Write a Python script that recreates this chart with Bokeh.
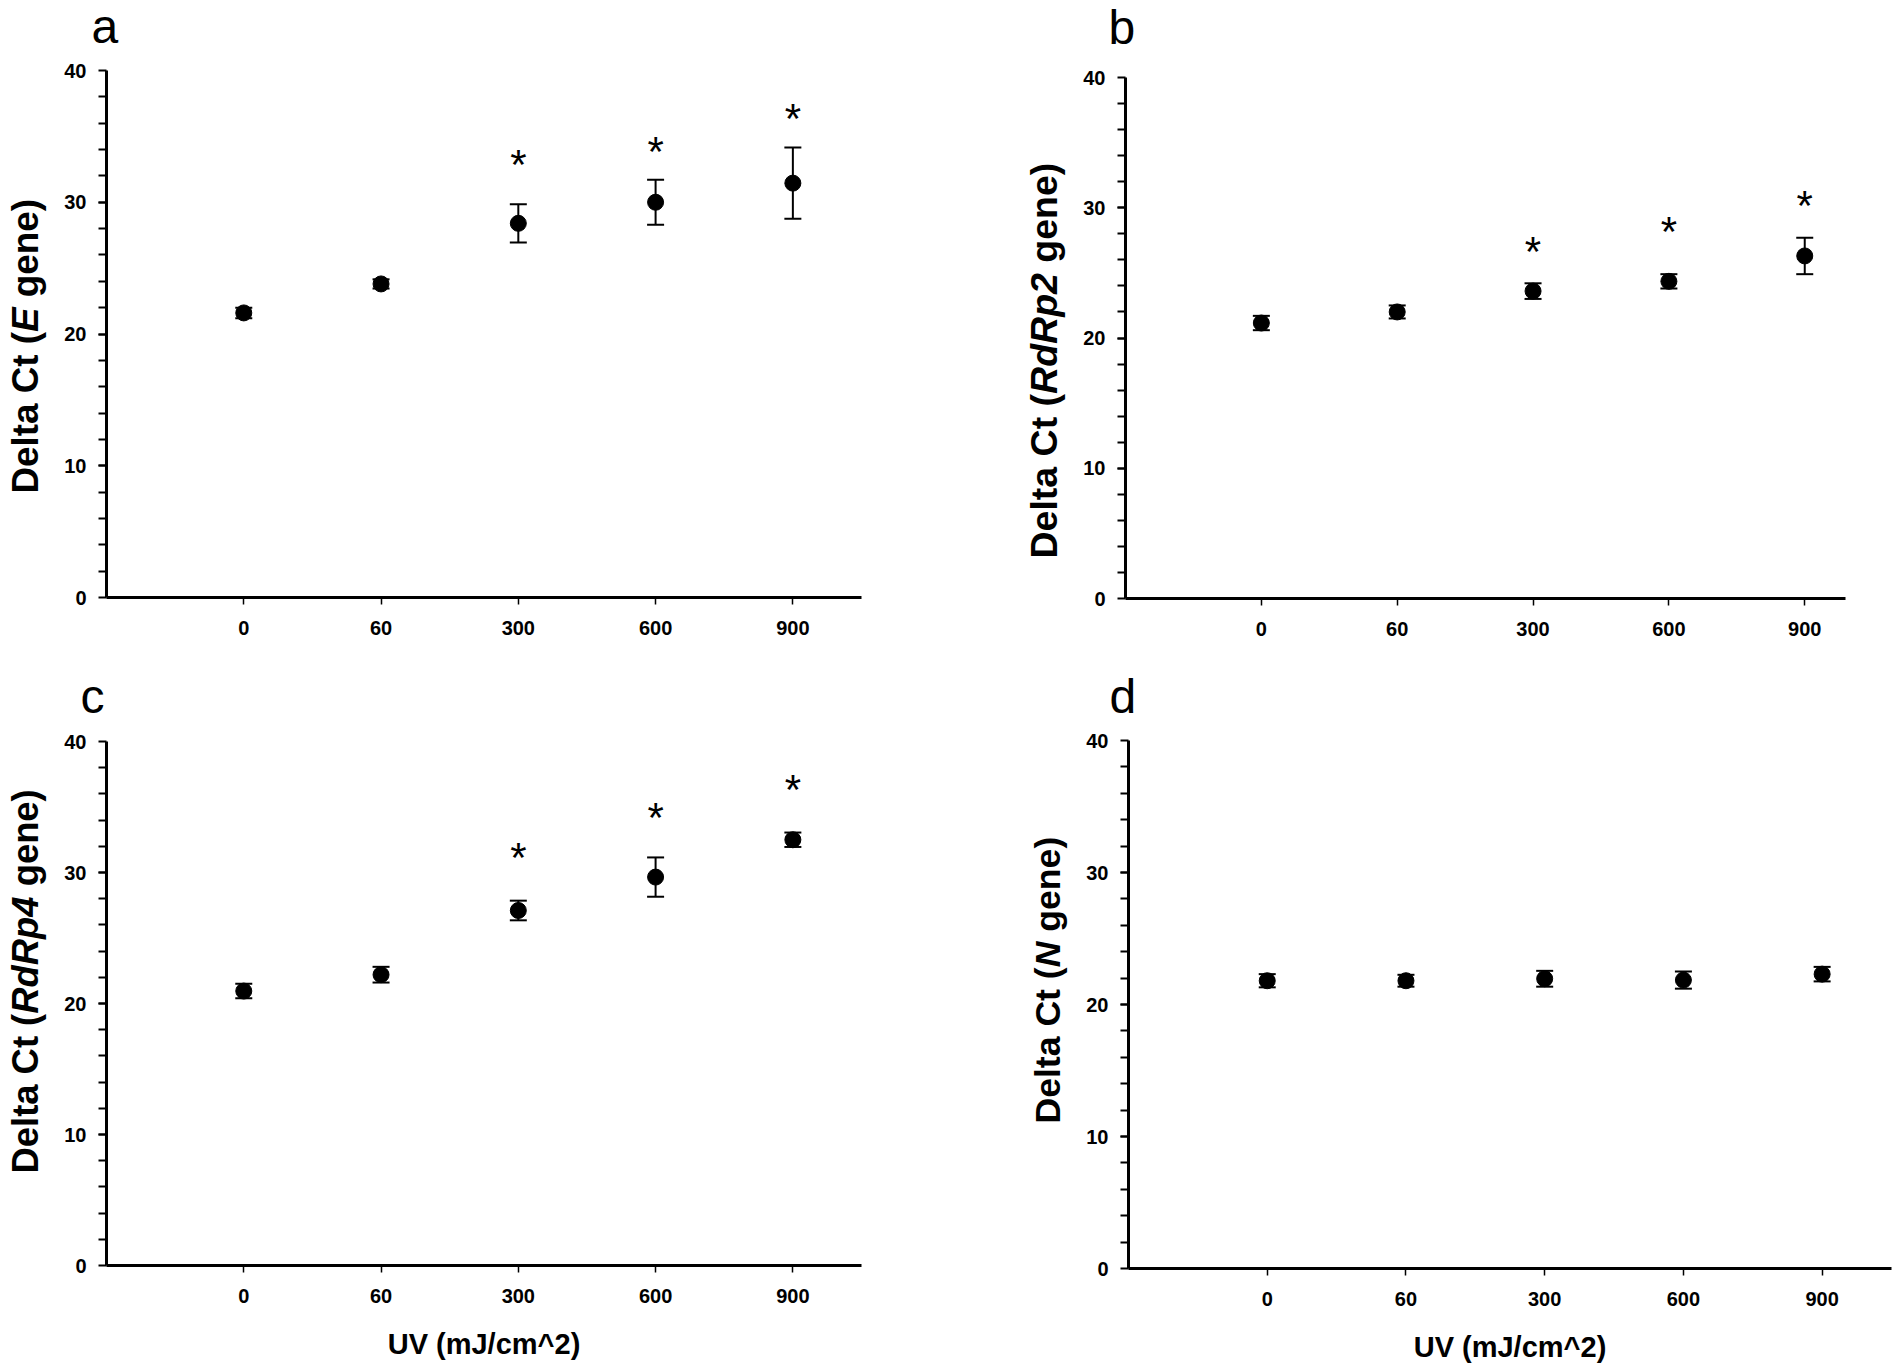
import math
from bokeh.plotting import figure
from bokeh.layouts import column, row
from bokeh.models import (ColumnDataSource, Range1d, FixedTicker, Whisker,
                          TeeHead, Label)
from bokeh.core.properties import value
from bokeh.embed import file_html
from bokeh.resources import INLINE

# ---------------- data ----------------
uv_doses = ["0", "60", "300", "600", "900"]

e_mean = [21.6, 23.8, 28.4, 30.0, 31.45]
e_err = [0.4, 0.35, 1.45, 1.7, 2.7]
e_star = [33.4, 34.4, 36.9]

rdrp2_mean = [21.15, 22.0, 23.6, 24.35, 26.3]
rdrp2_err = [0.55, 0.5, 0.6, 0.55, 1.4]
rdrp2_star = [27.2, 28.7, 30.7]

rdrp4_mean = [20.95, 22.2, 27.1, 29.65, 32.5]
rdrp4_err = [0.55, 0.6, 0.75, 1.5, 0.55]
rdrp4_star = [31.7, 34.7, 36.9]

n_mean = [21.8, 21.8, 21.95, 21.85, 22.3]
n_err = [0.5, 0.45, 0.6, 0.65, 0.55]
n_star = []

star_doses = ["300", "600", "900"]

y_ticks = [0, 10, 20, 30, 40]
x_title = "UV (mJ/cm^2)"

# Arial / Liberation Sans Bold advance widths (em)
W = {"D": .722, "e": .556, "l": .278, "t": .333, "a": .556, " ": .278,
     "C": .722, "(": .333, ")": .333, "E": .667, "g": .611, "n": .611,
     "R": .722, "d": .611, "p": .611, "2": .556, "4": .556, "N": .722}


def tw(s):
    return sum(W.get(c, .6) for c in s)


FONT = "Liberation Sans"
BASE_SHIFT = 0.35   # em; compensates Label's baseline placement


def make_panel(letter, gene, means, errs, stars, box, frame, x_end,
               show_xtitle, label_fs, label_start, letter_pos):
    bx0, by0, bx1, by1 = box
    L, R, T, B = frame          # pixel positions of x=-1, x=x_end, y=40, y=0
    kx = (R - L) / (x_end + 1.0)
    ky = (B - T) / 40.0
    xs0 = -1.0 - (L - bx0) / kx
    xs1 = -1.0 + (bx1 - L) / kx
    ys0 = -(by1 - B) / ky
    ys1 = (B - by0) / ky

    p = figure(width=bx1 - bx0, height=by1 - by0, min_border=0,
               x_range=Range1d(xs0, xs1), y_range=Range1d(ys0, ys1),
               output_backend="svg", toolbar_location=None)
    p.background_fill_color = "white"
    p.border_fill_color = "white"
    p.outline_line_color = None
    p.xgrid.visible = False
    p.ygrid.visible = False

    def dx(sx):
        return -1.0 + (sx - L) / kx

    def dy(sy):
        return (B - sy) / ky

    xs = list(range(len(uv_doses)))
    src = ColumnDataSource(dict(
        x=xs, y=means,
        upper=[m + e for m, e in zip(means, errs)],
        lower=[m - e for m, e in zip(means, errs)]))

    wh = Whisker(base="x", upper="upper", lower="lower", source=src,
                 line_width=2, line_color="black",
                 upper_head=TeeHead(size=17, line_width=2, line_color="black"),
                 lower_head=TeeHead(size=17, line_width=2, line_color="black"))
    p.add_layout(wh)
    p.scatter(x="x", y="y", source=src, size=16, marker="circle",
              fill_color="black", line_color="black")

    if stars:
        sx = [uv_doses.index(d) for d in star_doses]
        p.text(x=sx, y=stars, text=["*"] * len(stars),
               text_align="center", text_baseline="middle",
               text_font=value(FONT), text_font_size="42px",
               y_offset=7, text_color="black")

    # axes (placed at data locations, so the frame covers the whole figure)
    xa = p.xaxis[0]
    xa.fixed_location = 0
    xa.bounds = (-1.0, x_end)
    xa.ticker = FixedTicker(ticks=xs)
    xa.major_label_overrides = {i: d for i, d in enumerate(uv_doses)}
    xa.axis_line_width = 3
    xa.axis_line_color = "black"
    xa.major_tick_out = 7
    xa.major_tick_in = 0
    xa.major_tick_line_width = 1.5
    xa.minor_tick_out = 0
    xa.minor_tick_in = 0
    xa.major_label_text_font = FONT
    xa.major_label_text_font_size = "20px"
    xa.major_label_text_font_style = "bold"
    xa.major_label_text_color = "black"
    xa.major_label_standoff = 16
    if show_xtitle:
        xa.axis_label = x_title
        xa.axis_label_text_font = FONT
        xa.axis_label_text_font_size = "29px"
        xa.axis_label_text_font_style = "bold"
        xa.axis_label_text_color = "black"
        xa.axis_label_standoff = 22

    ya = p.yaxis[0]
    ya.fixed_location = -1.0
    ya.bounds = (0, 40)
    ya.ticker = FixedTicker(ticks=y_ticks, minor_ticks=list(range(2, 40, 2)))
    ya.axis_line_width = 3
    ya.axis_line_color = "black"
    ya.major_tick_out = 8
    ya.major_tick_in = 0
    ya.minor_tick_out = 8
    ya.minor_tick_in = 0
    ya.major_tick_line_width = 2
    ya.minor_tick_line_width = 2
    ya.major_label_text_font = FONT
    ya.major_label_text_font_size = "20px"
    ya.major_label_text_font_style = "bold"
    ya.major_label_text_color = "black"
    ya.major_label_standoff = 12

    # y title with italic gene name, built from three pieces
    base_x = dx(L - 68 - BASE_SHIFT * label_fs)
    pieces = [("Delta Ct (", "bold", 0.0), (gene, "bold italic", 0.0),
              ("gene)", "bold", tw(" "))]
    pos = label_start
    for txt, style, pre in pieces:
        pos -= pre * label_fs
        p.add_layout(Label(x=base_x, y=dy(pos), text=txt, angle=math.pi / 2,
                           text_align="left", text_baseline="alphabetic",
                           text_font=FONT, text_font_style=style,
                           text_font_size=f"{label_fs}px", text_color="black"))
        pos -= tw(txt) * label_fs

    # panel letter
    lx, ly = letter_pos
    p.add_layout(Label(x=dx(lx), y=dy(ly - BASE_SHIFT * 48), text=letter,
                       text_align="left", text_baseline="alphabetic",
                       text_font=FONT, text_font_size="48px",
                       text_color="black"))
    return p


pa = make_panel("a", "E", e_mean, e_err, e_star,
                (0, 0, 1000, 668), (106, 861, 70, 597), 4.5,
                False, 36.8, 493, (91, 43))
pb = make_panel("b", "RdRp2", rdrp2_mean, rdrp2_err, rdrp2_star,
                (1000, 0, 1900, 668), (1125, 1845, 77, 598), 4.3,
                False, 37.5, 558, (1108, 44))
pc = make_panel("c", "RdRp4", rdrp4_mean, rdrp4_err, rdrp4_star,
                (0, 668, 1000, 1370), (106, 861, 741, 1265), 4.5,
                True, 36.4, 1173, (80, 713))
pd = make_panel("d", "N", n_mean, n_err, n_star,
                (1000, 668, 1900, 1370), (1128, 1891, 740, 1268), 4.5,
                True, 35.6, 1123, (1109, 713))

layout = column(row(pa, pb), row(pc, pd))
open("out.html", "w").write(file_html(layout, INLINE))
